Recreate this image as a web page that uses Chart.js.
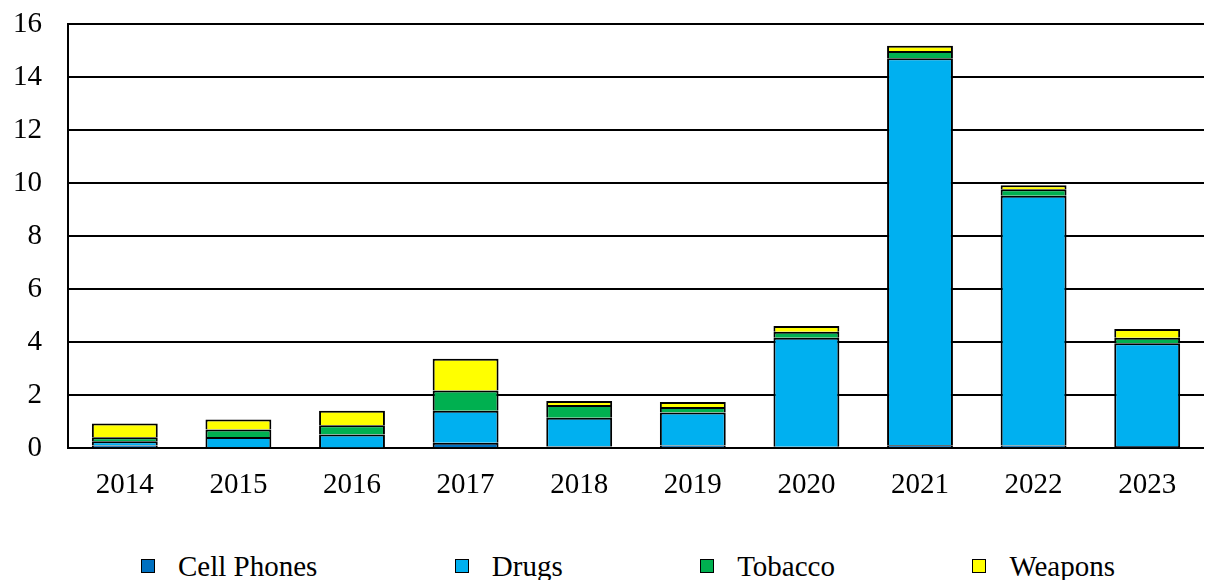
<!DOCTYPE html>
<html>
<head>
<meta charset="utf-8">
<script src="https://cdn.jsdelivr.net/npm/chart.js@4/dist/chart.umd.min.js"></script>
<style>
  html, body { margin: 0; padding: 0; background: #fff; }
  #wrap { position: relative; width: 1205px; height: 580px; }
  #box { position: absolute; left: 0; top: 0; width: 1205px; height: 523px; }
  #legend {
    position: absolute; left: 141px; right: 90px; top: 551px; height: 30px;
    display: flex; justify-content: space-between; align-items: center;
    font-family: 'Liberation Serif', 'Times New Roman', serif; font-size: 29px; color: #000;
  }
  #legend .item { display: flex; align-items: center; white-space: nowrap; }
  #legend .sw { width: 12px; height: 12px; border: 1px solid #000; margin-right: 23px; }
</style>
</head>
<body>
<div id="wrap">
  <div id="box"><canvas id="chart"></canvas></div>
  <div id="legend"></div>
</div>
<script>
const years = ["2014", "2015", "2016", "2017", "2018", "2019", "2020", "2021", "2022", "2023"];
const cellPhones = [0.10, 0.04, 0.03, 0.21, 0.06, 0.10, 0.05, 0.11, 0.10, 0.08];
const drugs = [0.16, 0.38, 0.49, 1.20, 1.09, 1.25, 4.12, 14.60, 9.42, 3.88];
const tobacco = [0.15, 0.29, 0.35, 0.77, 0.48, 0.20, 0.22, 0.27, 0.25, 0.21];
const weapons = [0.52, 0.37, 0.54, 1.19, 0.15, 0.19, 0.22, 0.20, 0.15, 0.33];
const seriesNames = ["Cell Phones", "Drugs", "Tobacco", "Weapons"];
const seriesColors = ["#0070C0", "#00B0F0", "#00B050", "#FFFF00"];
const yTicks = [0, 2, 4, 6, 8, 10, 12, 14, 16];

Chart.defaults.font.family = "'Liberation Serif', 'Times New Roman', serif";
Chart.defaults.font.size = 29;
Chart.defaults.color = "#000";

// legend drawn as html under the canvas so items can spread across the width
const htmlLegend = {
  id: "htmlLegend",
  afterUpdate(chart) {
    const el = document.getElementById("legend");
    el.innerHTML = "";
    chart.data.datasets.forEach(ds => {
      const item = document.createElement("div");
      item.className = "item";
      const sw = document.createElement("span");
      sw.className = "sw";
      sw.style.background = ds.backgroundColor;
      const txt = document.createElement("span");
      txt.textContent = ds.label;
      item.appendChild(sw);
      item.appendChild(txt);
      el.appendChild(item);
    });
  }
};

const values = [cellPhones, drugs, tobacco, weapons];
const datasets = seriesNames.map((name, i) => ({
  label: name,
  data: values[i],
  backgroundColor: seriesColors[i],
  borderColor: "#000",
  borderWidth: 2,
  categoryPercentage: 1,
  barPercentage: 0.58
}));

new Chart(document.getElementById("chart"), {
  type: "bar",
  data: { labels: years, datasets },
  plugins: [htmlLegend],
  options: {
    responsive: true,
    maintainAspectRatio: false,
    animation: false,
    layout: { padding: { left: 14, right: 1, top: 24, bottom: 0 } },
    plugins: {
      legend: { display: false },
      tooltip: { enabled: false }
    },
    scales: {
      x: {
        stacked: true,
        grid: { display: false, drawTicks: false },
        border: { display: false },
        ticks: { padding: 20 }
      },
      y: {
        stacked: true,
        min: 0,
        max: 16,
        afterBuildTicks: axis => { axis.ticks = yTicks.map(v => ({ value: v })); },
        afterFit: axis => {
          axis.width = 54;
          axis.paddingTop = 0;
          axis.paddingBottom = 0;
        },
        grid: { color: "#000", lineWidth: 2, drawTicks: false },
        border: { display: true, color: "#000", width: 2 },
        ticks: { padding: 26 }
      }
    }
  }
});
</script>
</body>
</html>
